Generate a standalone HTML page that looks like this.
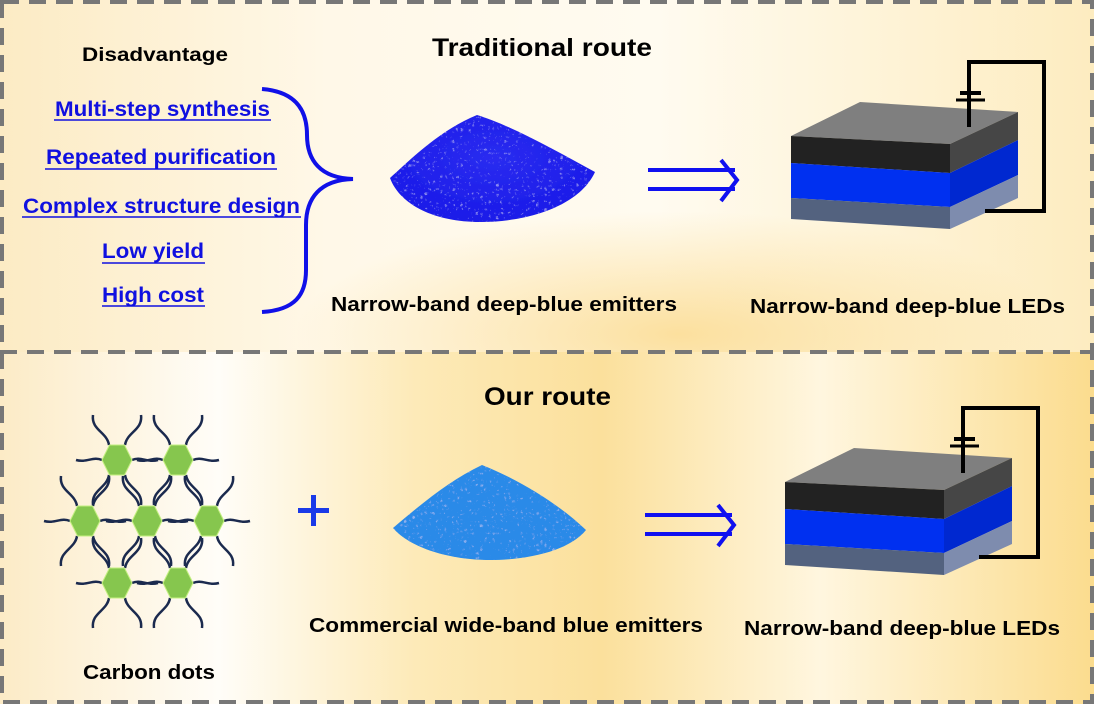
<!DOCTYPE html>
<html><head><meta charset="utf-8"><style>
body{margin:0;width:1094px;height:704px;overflow:hidden;font-family:"Liberation Sans",sans-serif}
svg text{font-family:"Liberation Sans",sans-serif;font-weight:bold}
</style></head><body>
<svg width="1094" height="704" viewBox="0 0 1094 704" xmlns="http://www.w3.org/2000/svg">
<defs>
<linearGradient id="bg1" x1="0" y1="0" x2="1" y2="0">
<stop offset="0" stop-color="#fcebc4"/><stop offset="0.3" stop-color="#fff8e8"/><stop offset="0.6" stop-color="#fffbf0"/><stop offset="1" stop-color="#fdecc0"/></linearGradient>
<radialGradient id="glow1" cx="0.62" cy="0.95" r="0.35"><stop offset="0" stop-color="#fbd98a" stop-opacity="0.8"/><stop offset="1" stop-color="#fbd98a" stop-opacity="0"/></radialGradient>
<linearGradient id="bg2" x1="0" y1="0" x2="1" y2="0">
<stop offset="0" stop-color="#fcebc6"/><stop offset="0.2" stop-color="#fffdf8"/><stop offset="0.38" stop-color="#fdeab8"/><stop offset="0.55" stop-color="#fbe09c"/><stop offset="0.75" stop-color="#fff6df"/><stop offset="1" stop-color="#fbdc8e"/></linearGradient>
<radialGradient id="pw1" cx="0.5" cy="0.4" r="0.6"><stop offset="0" stop-color="#2a2cf0"/><stop offset="1" stop-color="#1a1ae8"/></radialGradient>
<filter id="noise"><feTurbulence baseFrequency="0.25" numOctaves="2" seed="3"/><feColorMatrix values="0 0 0 0 1  0 0 0 0 1  0 0 0 0 1  0 0 0 0.8 -0.35"/><feComposite in2="SourceGraphic" operator="in"/><feBlend in2="SourceGraphic" mode="screen"/></filter>
<g id="led">
<polygon points="791,136 860,102 1018,112 950,144" fill="#7f7f7f"/>
<polygon points="791,136 950,144 950,173 791,163" fill="#222"/>
<polygon points="791,163 950,173 950,207 791,198" fill="#0030f0"/>
<polygon points="791,198 950,207 950,229 791,219" fill="#53627f"/>
<polygon points="950,144 1018,112 1018,140 950,173" fill="#464646"/>
<polygon points="950,173 1018,140 1018,175 950,207" fill="#0028d0"/>
<polygon points="950,207 1018,175 1018,198 950,229" fill="#7e8cae"/>
<polyline points="969,127 969,62 1044,62 1044,211 985,211" fill="none" stroke="#000" stroke-width="4"/>
<line x1="960" y1="93" x2="981" y2="93" stroke="#000" stroke-width="4"/>
<line x1="956" y1="100" x2="985" y2="100" stroke="#000" stroke-width="3"/>
</g>
<g id="arrow" fill="none" stroke="#1010f0" stroke-width="4">
<line x1="648" y1="170" x2="735" y2="170"/><line x1="648" y1="189" x2="735" y2="189"/>
<polyline points="721,160 737,180 721,201"/>
</g>
<polygon id="hex" points="-15,0 -7.5,-15 7.5,-15 15,0 7.5,15 -7.5,15" fill="#86c64e" stroke="#c4f080" stroke-width="1"/>
<g id="arms" fill="none" stroke="#1b2a4e" stroke-width="2.5">
<path d="M-15,0 C-24,-4 -30,3 -41,0"/><path d="M15,0 C24,-4 30,3 41,0"/>
<path d="M-8,-15 C-10,-28 -26,-30 -24,-45"/><path d="M8,-15 C10,-28 26,-30 24,-45"/>
<path d="M-8,15 C-10,28 -26,30 -24,45"/><path d="M8,15 C10,28 26,30 24,45"/>
</g>
</defs>
<rect x="0" y="0" width="1094" height="352" fill="url(#bg1)"/>
<rect x="0" y="0" width="1094" height="352" fill="url(#glow1)"/>
<rect x="0" y="352" width="1094" height="352" fill="url(#bg2)"/>
<rect x="2" y="2" width="1090" height="700" fill="none" stroke="#777" stroke-width="4" stroke-dasharray="17,10"/>
<line x1="0" y1="352" x2="1094" y2="352" stroke="#777" stroke-width="4" stroke-dasharray="17,10"/>

<text x="82" y="61" font-size="19" textLength="146" lengthAdjust="spacingAndGlyphs">Disadvantage</text>
<text x="432" y="56" font-size="25" textLength="220" lengthAdjust="spacingAndGlyphs">Traditional route</text>
<g font-size="21" fill="#1010e0">
<text x="55" y="116" textLength="215" lengthAdjust="spacingAndGlyphs">Multi-step synthesis</text>
<text x="46" y="164" textLength="230" lengthAdjust="spacingAndGlyphs">Repeated purification</text>
<text x="23" y="213" textLength="277" lengthAdjust="spacingAndGlyphs">Complex structure design</text>
<text x="102" y="258" textLength="102" lengthAdjust="spacingAndGlyphs">Low yield</text>
<text x="102" y="302" textLength="102" lengthAdjust="spacingAndGlyphs">High cost</text>
</g>
<g stroke="#1010e0" stroke-width="1.5">
<line x1="54" y1="120" x2="271" y2="120"/><line x1="45" y1="169" x2="277" y2="169"/>
<line x1="22" y1="217" x2="301" y2="217"/><line x1="102" y1="263" x2="205" y2="263"/>
<line x1="102" y1="306" x2="205" y2="306"/></g>
<path d="M262,89 C300,92 307,115 307,135 C307,160 320,178 353,179 C320,180 306,198 306,225 L306,270 C306,295 295,310 262,312" fill="none" stroke="#1010e8" stroke-width="4"/>

<path d="M390,178 C410,160 440,130 477,115 C510,125 555,150 595,172 C580,205 530,222 480,222 C435,222 400,205 390,178Z" fill="url(#pw1)" filter="url(#noise)"/>
<use href="#arrow"/>
<use href="#led"/>
<text x="331" y="311" font-size="20" textLength="346" lengthAdjust="spacingAndGlyphs">Narrow-band deep-blue emitters</text>
<text x="750" y="313" font-size="20" textLength="315" lengthAdjust="spacingAndGlyphs">Narrow-band deep-blue LEDs</text>

<text x="484" y="405" font-size="25" textLength="127" lengthAdjust="spacingAndGlyphs">Our route</text>
<g>
<use href="#arms" x="117" y="460"/><use href="#arms" x="178" y="460"/>
<use href="#arms" x="85" y="521"/><use href="#arms" x="147" y="521"/><use href="#arms" x="209" y="521"/>
<use href="#arms" x="117" y="583"/><use href="#arms" x="178" y="583"/>
<use href="#hex" x="117" y="460"/><use href="#hex" x="178" y="460"/>
<use href="#hex" x="85" y="521"/><use href="#hex" x="147" y="521"/><use href="#hex" x="209" y="521"/>
<use href="#hex" x="117" y="583"/><use href="#hex" x="178" y="583"/>
</g>
<rect x="298" y="508" width="31" height="5" fill="#1a3ae8"/>
<rect x="311" y="495" width="5" height="31" fill="#1a3ae8"/>
<path d="M393,528 C420,505 450,480 482,465 C520,480 560,505 586,530 C570,550 530,560 490,560 C450,560 410,548 393,528Z" fill="#2a8ae8" filter="url(#noise)"/>
<use href="#arrow" x="-3" y="345"/>
<use href="#led" x="-6" y="346"/>
<text x="309" y="632" font-size="20" textLength="394" lengthAdjust="spacingAndGlyphs">Commercial wide-band blue emitters</text>
<text x="744" y="635" font-size="20" textLength="316" lengthAdjust="spacingAndGlyphs">Narrow-band deep-blue LEDs</text>
<text x="83" y="679" font-size="20" textLength="132" lengthAdjust="spacingAndGlyphs">Carbon dots</text>
</svg>
</body></html>
